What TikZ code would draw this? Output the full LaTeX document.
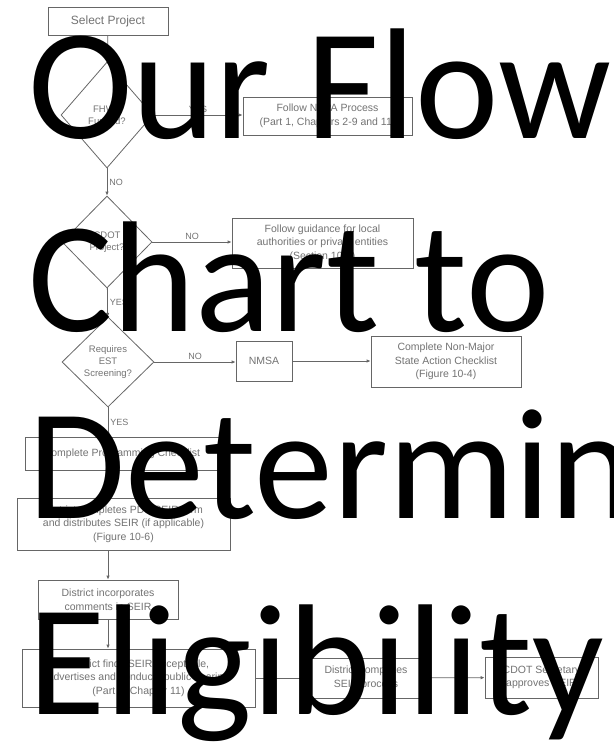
\documentclass[tikz,border=0pt]{standalone}
\usepackage{fontspec}
\setmainfont{Liberation Sans}
\newfontfamily\titlefont{Carlito}
\usetikzlibrary{arrows.meta, positioning, shapes.geometric, shadows}

\begin{document}
\begin{tikzpicture}[x=1pt, y=-1pt, >={Latex[length=4pt,width=3.5pt]},
  box/.style={draw=black!60, line width=0.8pt, fill=white, inner sep=1pt,
    align=center, text=black!55, font=\fontsize{10.5}{13.5}\selectfont,
    drop shadow={shadow xshift=1.2pt, shadow yshift=-1.2pt, fill=black!35, opacity=1}},
  decision/.style={draw=black!60, line width=0.8pt, diamond, inner sep=0pt},
  txt/.style={align=center, text=black!55, font=\fontsize{9.5}{12}\selectfont},
  lbl/.style={text=black!55, font=\fontsize{9}{10}\selectfont, inner sep=2pt},
  flow/.style={->, draw=black!60, line width=0.8pt},
  big/.style={anchor=base west, inner sep=0pt, text=black,
    font=\titlefont\fontsize{158}{192}\selectfont}]
  \useasboundingbox (0,0) rectangle (613,744);
  \clip (0,0) rectangle (613,744);
  % left column
  \node[box, minimum width=120pt, minimum height=28pt, font=\fontsize{12}{14}\selectfont] (sel) at (108,21) {Select Project};
  \node[decision, minimum width=92pt, minimum height=106pt,
    label={[txt]center:FHWA\\Funded?}] (fhwa) at (107,115) {};
  \node[decision, minimum width=90pt, minimum height=92pt,
    label={[txt]center:CDOT\\Project?}] (dot) at (107,242) {};
  \node[decision, minimum width=92pt, minimum height=90pt,
    label={[txt]center:Requires\\EST\\Screening?}] (est) at (108,362) {};
  \node[box, minimum width=194pt, minimum height=33pt] (prog) at (122,453.5) {Complete Programming Checklist};
  \node[box, minimum width=213pt, minimum height=52pt] (pds) at (123.5,524)
    {District completes PDS/SEIR form\\and distributes SEIR (if applicable)\\(Figure 10-6)};
  \node[box, minimum width=140pt, minimum height=39pt] (inc) at (108,599.5)
    {District incorporates\\comments in SEIR};
  \node[box, minimum width=233pt, minimum height=58pt] (hear) at (138.5,678)
    {District finds SEIR acceptable,\\advertises and conducts public hearing\\(Part 1, Chapter 11)};
  % right side
  \node[box, minimum width=169pt, minimum height=38pt] (nepa) at (327.5,116)
    {Follow NEPA Process\\(Part 1, Chapters 2-9 and 11)};
  \node[box, minimum width=181pt, minimum height=50pt] (local) at (322.5,243)
    {Follow guidance for local\\authorities or private entities\\(Section 10-3)};
  \node[box, minimum width=56pt, minimum height=40pt] (nmsa) at (264,361) {NMSA};
  \node[box, minimum width=150pt, minimum height=51pt] (nmsc) at (446,361.5)
    {Complete Non-Major\\State Action Checklist\\(Figure 10-4)};
  \node[box, minimum width=122pt, minimum height=40pt] (seir) at (366,678)
    {District completes\\SEIR process};
  \node[box, minimum width=113pt, minimum height=41pt] (appr) at (541.5,677.5)
    {CDOT Secretary\\approves SEIR};
  % connectors
  \draw[flow] (sel) -- (fhwa);
  \draw[flow] (fhwa.east) -- node[lbl, above] {YES} (fhwa.east -| nepa.west);
  \draw[flow] (fhwa) -- node[lbl, right] {NO} (dot);
  \draw[flow] (dot.east) -- node[lbl, above] {NO} (dot.east -| local.west);
  \draw[flow] (dot) -- node[lbl, right] {YES} (est);
  \draw[flow] (est.east) -- node[lbl, above] {NO} (est.east -| nmsa.west);
  \draw[flow] (nmsa) -- (nmsa -| nmsc.west);
  \draw[flow] (est.south) -- node[lbl, right] {YES} (est.south |- prog.north);
  \draw[flow] (prog.south -| est.south) -- (pds.north -| est.south);
  \draw[flow] (pds.south -| est.south) -- (inc.north -| est.south);
  \draw[flow] (inc.south -| est.south) -- (hear.north -| est.south);
  \draw[flow] (hear) -- (seir);
  \draw[flow] (seir) -- (appr);
  % title over the chart
  \node[big] (l1) at (28,138) {Our Flow};
  \node[big] (l2) at (28,331) {Chart to};
  \node[big] (l3) at (28,518) {Determine};
  \node[big] (l4) at (28,714) {Eligibility};
\end{tikzpicture}
\end{document}
